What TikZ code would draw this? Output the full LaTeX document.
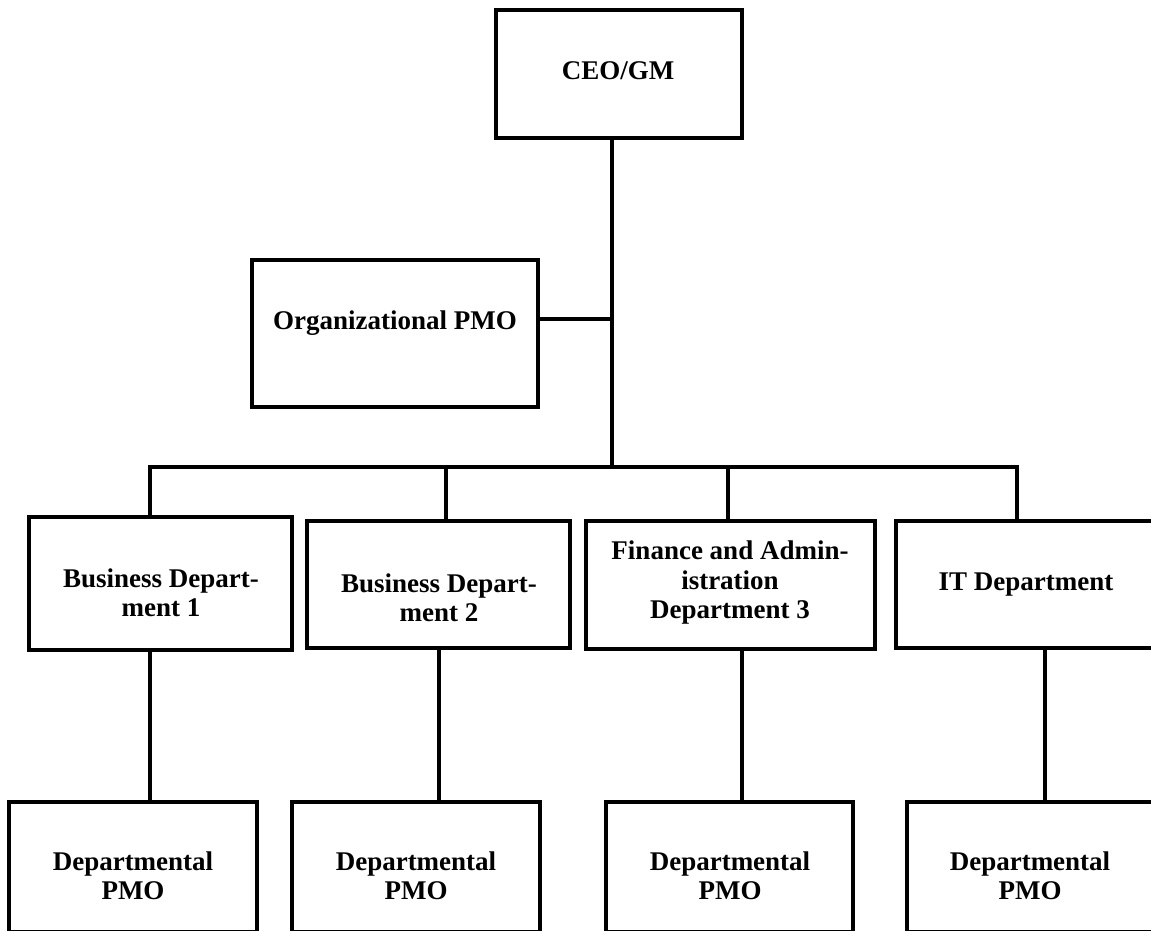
\documentclass[tikz,border=0pt]{standalone}
\usepackage{fontspec}
\setmainfont{Liberation Serif}
\begin{document}
\begin{tikzpicture}[x=1pt,y=-1pt,
  box/.style={draw=black, line width=4.6pt, fill=white, inner sep=0pt},
  lbl/.style={font=\bfseries\fontsize{27}{29.5}\selectfont, align=center, inner sep=0pt},
  link/.style={draw=black, line width=3.4pt}]
\useasboundingbox (0,0) rectangle (1151,931);
\clip (0,0) rectangle (1151,931);

% junction points of the tree
\coordinate (bus)  at (612,467);
\coordinate (orgj) at (612,319);
\coordinate (d1) at (150,467);
\coordinate (d2) at (446,467);
\coordinate (d3) at (728,467);
\coordinate (d4) at (1017,467);
\coordinate (l1) at (150,802);
\coordinate (l2) at (439,802);
\coordinate (l3) at (742,802);
\coordinate (l4) at (1045,802);

% boxes
\node[box, minimum width=246pt, minimum height=128pt] (ceo) at (619,74) {};
\node[box, minimum width=286pt, minimum height=147pt] (org) at (395,333.5) {};

\node[box, minimum width=263pt, minimum height=133pt] (b1) at (160.5,583.5) {};
\node[box, minimum width=263pt, minimum height=127pt] (b2) at (438.5,584.5) {};
\node[box, minimum width=289pt, minimum height=128pt] (b3) at (730.5,585) {};
\node[box, minimum width=264pt, minimum height=127pt] (b4) at (1028,584.5) {};

\node[box, minimum width=248pt, minimum height=130pt] (p1) at (133,867) {};
\node[box, minimum width=248pt, minimum height=130pt] (p2) at (416,867) {};
\node[box, minimum width=247pt, minimum height=130pt] (p3) at (729.5,867) {};
\node[box, minimum width=253pt, minimum height=130pt] (p4) at (1033.5,867) {};

% labels
\node[lbl] (ceo-t) at (618,71) {CEO/GM};
\node[lbl] (org-t) at (395,323) {Organizational PMO};
\node[lbl] (b1-t) at (161,593) {Business Depart-\\ment 1};
\node[lbl] (b2-t) at (439,598) {Business Depart-\\ment 2};
\node[lbl] (b3-t) at (730,583) {Finance and Admin-\\istration\\Department 3};
\node[lbl] (b4-t) at (1026,585) {IT Department};
\node[lbl] (p1-t) at (133,876) {Departmental\\PMO};
\node[lbl] (p2-t) at (416,876) {Departmental\\PMO};
\node[lbl] (p3-t) at (730,876) {Departmental\\PMO};
\node[lbl] (p4-t) at (1030,876) {Departmental\\PMO};

% connectors
\draw[link] (bus |- ceo.south) -- (bus);
\draw[link] (org.east |- orgj) -- (orgj);
\draw[link] (d1 |- b1.north) -- (d1) -- (d4) -- (d4 |- b4.north);
\draw[link] (d2) -- (d2 |- b2.north);
\draw[link] (d3) -- (d3 |- b3.north);
\draw[link] (l1 |- b1.south) -- (l1 |- p1.north);
\draw[link] (l2 |- b2.south) -- (l2 |- p2.north);
\draw[link] (l3 |- b3.south) -- (l3 |- p3.north);
\draw[link] (l4 |- b4.south) -- (l4 |- p4.north);
\end{tikzpicture}
\end{document}
